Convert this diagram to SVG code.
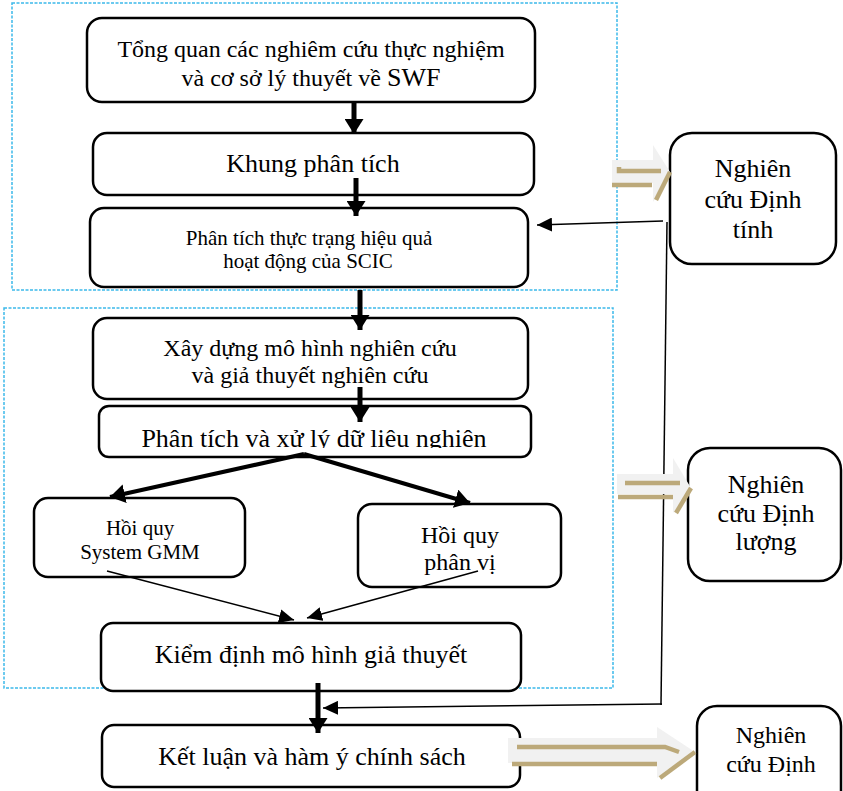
<svg xmlns="http://www.w3.org/2000/svg" width="843" height="791" viewBox="0 0 843 791">
<style>
.box{fill:#fff;stroke:#000;stroke-width:2.5}
.rbox{fill:#fff;stroke:#000;stroke-width:2.5}
.frame{fill:none;stroke:#3cb9ea;stroke-width:1.5;stroke-dasharray:3 1.5}
text{font-family:"Liberation Serif","Times New Roman",serif;fill:#000;text-anchor:middle}
.thick{stroke:#000;stroke-width:5;fill:none}
.diag{stroke:#000;stroke-width:4;fill:none}
.thin{stroke:#000;stroke-width:1.5;fill:none}
.grey{fill:#f1f1f1}
.beige{fill:none;stroke:#bca97a;stroke-width:4.5}
</style>
<defs>
<marker id="hb" markerUnits="userSpaceOnUse" viewBox="0 0 15 19" refX="15" refY="9.5" markerWidth="15" markerHeight="19" orient="auto">
<path d="M0,0 L15,9.5 L0,19 Z" fill="#000"/>
</marker>
<marker id="ht" markerUnits="userSpaceOnUse" viewBox="0 0 15 14" refX="15" refY="7" markerWidth="15" markerHeight="14" orient="auto">
<path d="M0,0 L15,7 L0,14 Z" fill="#000"/>
</marker>
<clipPath id="c5"><rect x="99" y="406" width="432" height="42"/></clipPath>
</defs>

<rect class="frame" x="12" y="3" width="605" height="287"/>
<rect class="frame" x="4" y="308" width="609" height="380"/>

<g id="n1"><rect class="box" x="87" y="18" width="448" height="84" rx="15"/>
<text x="311" y="57" font-size="24">Tổng quan các nghiêm cứu thực nghiệm</text>
<text x="311" y="86" font-size="24">và cơ sở lý thuyết về <tspan font-size="26">SWF</tspan></text></g>

<g id="n2"><rect class="box" x="93" y="133" width="441" height="62" rx="14"/>
<text x="313" y="172" font-size="26">Khung phân tích</text></g>

<g id="n3"><rect class="box" x="90" y="208" width="438" height="79" rx="14"/>
<text x="309" y="245" font-size="21">Phân tích thực trạng hiệu quả</text>
<text x="308" y="268" font-size="21">hoạt động của SCIC</text></g>

<g id="n4"><rect class="box" x="93" y="318" width="435" height="81" rx="14"/>
<text x="310" y="356" font-size="24">Xây dựng mô hình nghiên cứu</text>
<text x="310" y="383" font-size="24">và giả thuyết nghiên cứu</text></g>

<g id="n5"><rect class="box" x="99" y="406" width="432" height="51" rx="10"/>
<text x="314" y="447" font-size="26" clip-path="url(#c5)">Phân tích và xử lý dữ liêu nghiên</text></g>

<g id="n6"><rect class="box" x="34" y="498" width="211" height="79" rx="14"/>
<text x="140" y="535" font-size="21">Hồi quy</text>
<text x="140" y="559" font-size="21">System GMM</text></g>

<g id="n7"><rect class="box" x="358" y="504" width="203" height="83" rx="14"/>
<text x="460" y="543" font-size="24">Hồi quy</text>
<text x="460" y="570" font-size="24">phân vị</text></g>

<g id="n8"><rect class="box" x="101" y="623" width="420" height="68" rx="12"/>
<text x="311" y="663" font-size="26">Kiểm định mô hình giả thuyết</text></g>

<g id="n9"><rect class="box" x="102" y="725" width="418" height="62" rx="12"/>
<text x="312" y="765" font-size="26">Kết luận và hàm ý chính sách</text></g>

<g id="r1"><rect class="rbox" x="670" y="133" width="166" height="131" rx="22"/>
<text x="753" y="177" font-size="26">Nghiên</text>
<text x="753" y="208" font-size="26">cứu Định</text>
<text x="753" y="238" font-size="26">tính</text></g>

<g id="r2"><rect class="rbox" x="688" y="448" width="153" height="133" rx="22"/>
<text x="766" y="493" font-size="26">Nghiên</text>
<text x="766" y="522" font-size="26">cứu Định</text>
<text x="766" y="550" font-size="26">lượng</text></g>

<g id="r3"><rect class="rbox" x="697" y="706" width="144" height="120" rx="20"/>
<text x="771" y="743" font-size="24">Nghiên</text>
<text x="771" y="772" font-size="24">cứu Định</text></g>

<g id="connectors">
<line class="thick" x1="354" y1="103" x2="354" y2="134" marker-end="url(#hb)"/>
<line class="thick" x1="356" y1="178" x2="356" y2="216" marker-end="url(#hb)"/>
<line class="thick" x1="360" y1="290" x2="360" y2="330" marker-end="url(#hb)"/>
<line class="thick" x1="360" y1="387" x2="360" y2="422" marker-end="url(#hb)"/>
<line class="diag" x1="304" y1="454" x2="110" y2="497" marker-end="url(#hb)"/>
<line class="diag" x1="304" y1="454" x2="470" y2="503" marker-end="url(#hb)"/>
<line class="thin" x1="107" y1="571" x2="294" y2="620" marker-end="url(#ht)"/>
<line class="thin" x1="478" y1="571" x2="307" y2="618" marker-end="url(#ht)"/>
<line class="thick" x1="318" y1="683" x2="318" y2="733" marker-end="url(#hb)"/>
<line class="thin" x1="663" y1="221" x2="537" y2="225" marker-end="url(#ht)"/>
<line class="thin" x1="667" y1="222" x2="661" y2="705"/>
<line class="thin" x1="662" y1="704" x2="323" y2="708" marker-end="url(#ht)"/>

<g id="da1">
<path class="grey" d="M612,160 H653 V145 L670,172 L653,202 V183 H612 Z"/>
<path class="beige" d="M619,167 V171 H661"/>
<path class="beige" d="M612,185 H652"/>
<path class="beige" d="M670,172 L656,200"/>
</g>
<g id="da2">
<path class="grey" d="M617,474 H673 V458 L691,488 L673,513 V494 H617 Z"/>
<path class="beige" d="M625,483 H680"/>
<path class="beige" d="M618,497 H673"/>
<path class="beige" d="M691,488 L676,513"/>
</g>
<g id="da3">
<path class="grey" d="M508,738 H657 V727 L695,752 L657,778 V763 H508 Z"/>
<path class="beige" d="M517,747 H665 L679,752"/>
<path class="beige" d="M512,764 H657"/>
<path class="beige" d="M695,752 L660,778"/>
</g>
</g>
</svg>
